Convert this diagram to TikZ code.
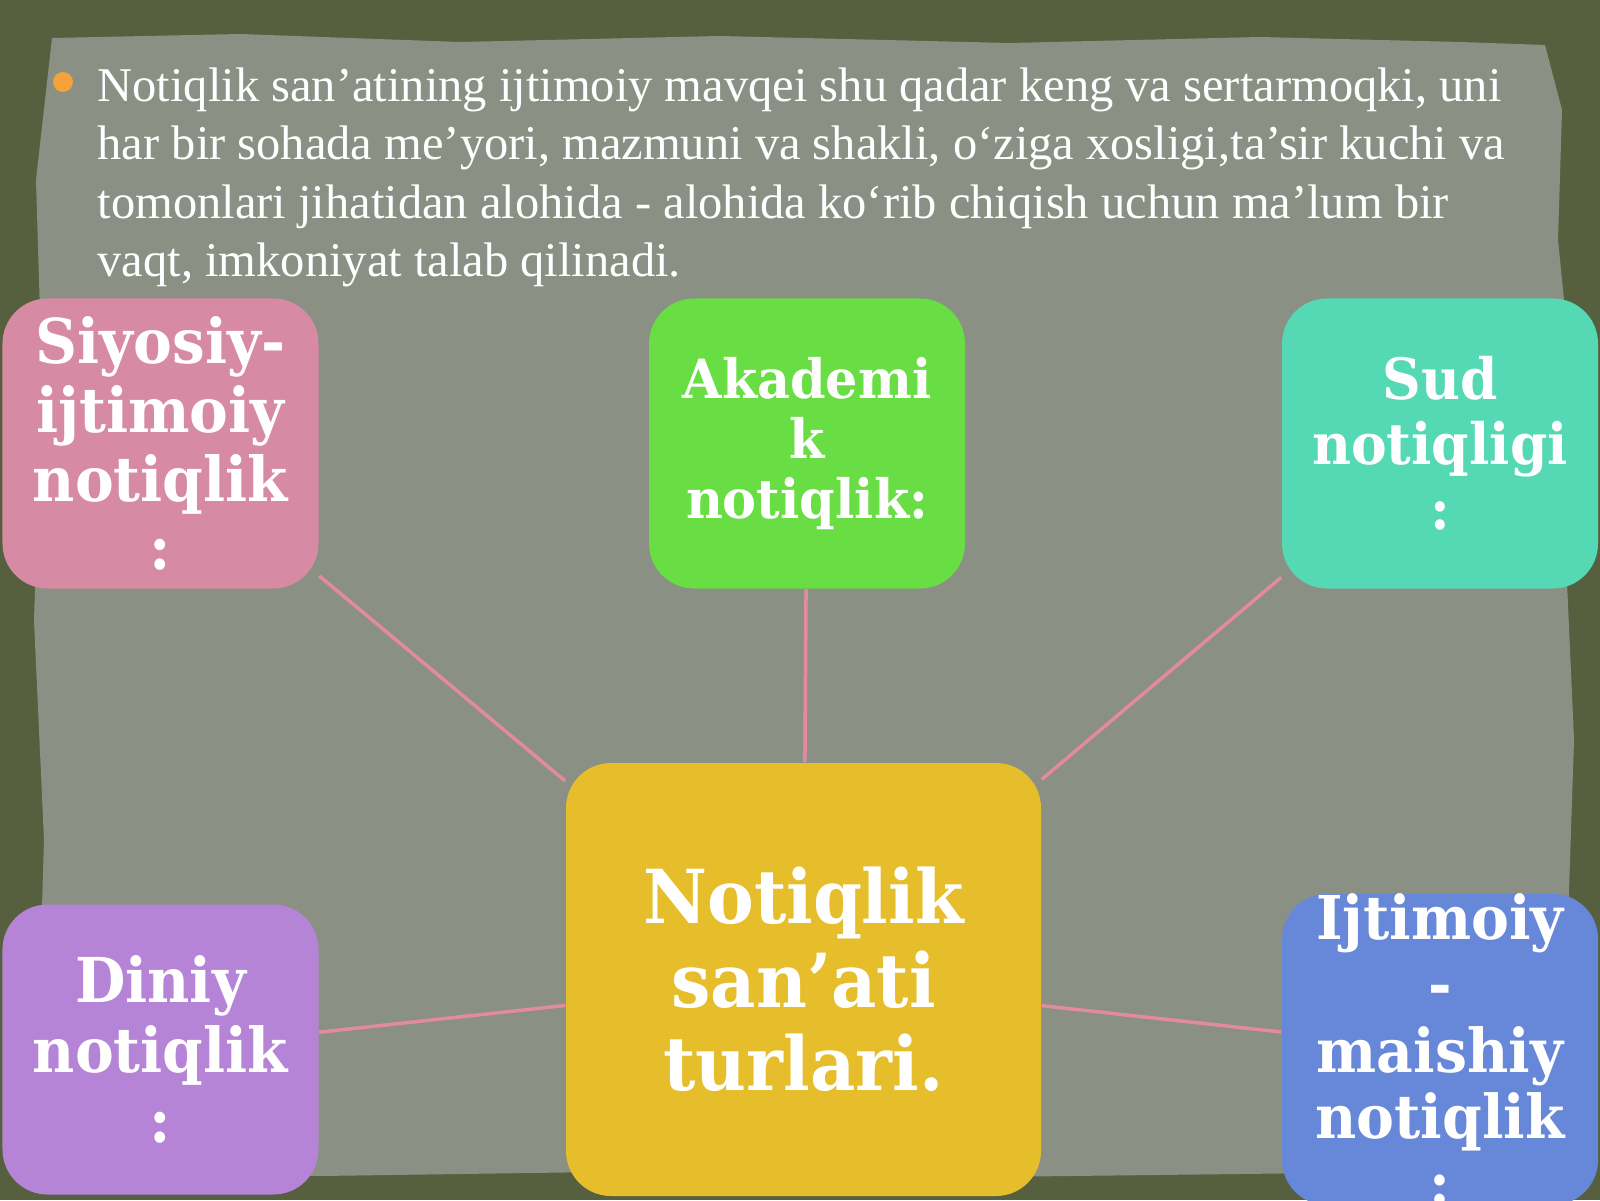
\documentclass[tikz,border=0pt]{standalone}
\usepackage{fontspec}
\usepackage{xcolor}
\setmainfont{Liberation Serif}
\newfontfamily\slidefont{Liberation Serif}
\newfontfamily\boxfont[FakeStretch=0.94]{DejaVu Serif}
\definecolor{framegreen}{HTML}{56603F}
\definecolor{paper}{HTML}{8A9083}
\definecolor{linkpink}{HTML}{E38AA2}
\definecolor{bulletorange}{HTML}{F4A23C}
\definecolor{siyosiyc}{HTML}{D78AA4}
\definecolor{akademc}{HTML}{68DE44}
\definecolor{sudc}{HTML}{55D8B4}
\definecolor{dinc}{HTML}{B684D6}
\definecolor{maishc}{HTML}{6788D8}
\definecolor{markazc}{HTML}{E6BE2C}

\begin{document}
\begin{tikzpicture}[
  turbox/.style={rounded corners=0.45cm,text=white,align=center,inner sep=0pt,
    minimum width=3.16cm,minimum height=2.9cm},
  link/.style={draw=linkpink,line width=1pt}]
\useasboundingbox (0,0) rectangle (16,12);
% background frame and torn paper
\fill[framegreen] (0,0) rectangle (16,12);
\fill[paper] (0.52,11.62) -- (2.4,11.66) -- (4.6,11.58) -- (7.2,11.64) -- (10.1,11.57)
  -- (12.6,11.63) -- (14.6,11.58) -- (15.45,11.55) -- (15.62,10.9) -- (15.58,9.6)
  -- (15.72,8.2) -- (15.66,6.4) -- (15.74,4.6) -- (15.68,2.8) -- (15.72,1.0)
  -- (15.6,0.3) -- (12.4,0.26) -- (9.0,0.22) -- (6.0,0.28) -- (3.2,0.24) -- (0.5,0.3)
  -- (0.38,1.6) -- (0.44,3.6) -- (0.34,5.8) -- (0.42,8.2) -- (0.36,10.2) -- cycle;

% bullet text
\fill[bulletorange] (0.63,11.18) circle (0.1);
\node[anchor=north west,inner sep=0pt,align=left,text=white,
  font=\slidefont\fontsize{13.8}{16.6}\selectfont] (intro) at (0.97,11.33)
  {Notiqlik san’atining ijtimoiy mavqei shu qadar keng va sertarmoqki, uni\\
   har bir sohada me’yori, mazmuni va shakli, o‘ziga xosligi,ta’sir kuchi va\\
   tomonlari jihatidan alohida - alohida ko‘rib chiqish uchun ma’lum bir\\
   vaqt, imkoniyat talab qilinadi.};

% boxes
\node[turbox,fill=markazc,minimum width=4.75cm,minimum height=4.33cm,
  font=\boxfont\bfseries\fontsize{21.2}{23.8}\selectfont] (markaz) at (8.035,2.205)
  {Notiqlik\\san’ati\\turlari.};
\node[turbox,fill=siyosiyc,font=\boxfont\bfseries\fontsize{17.6}{19.6}\selectfont]
  (siyosiy) at (1.605,7.565) {Siyosiy-\\ijtimoiy\\notiqlik\\:};
\node[turbox,fill=akademc,font=\boxfont\bfseries\fontsize{15.4}{17.1}\selectfont]
  (akadem) at (8.07,7.565) {Akademi\\k\\notiqlik:};
\node[turbox,fill=sudc,font=\boxfont\bfseries\fontsize{16.2}{18.5}\selectfont]
  (sud) at (14.40,7.565) {Sud\\notiqligi\\:};
\node[turbox,fill=dinc,font=\boxfont\bfseries\fontsize{17.6}{19.8}\selectfont]
  (diniy) at (1.605,1.505) {Diniy\\notiqlik\\:};
\node[turbox,fill=maishc,font=\boxfont\bfseries\fontsize{17.2}{18.8}\selectfont]
  (maishiy) at (14.40,1.505) {Ijtimoiy\\-\\maishiy\\notiqlik\\:};

% connectors
\draw[link] (siyosiy) -- (markaz);
\draw[link] (akadem) -- (markaz);
\draw[link] (sud) -- (markaz);
\draw[link] (diniy) -- (markaz);
\draw[link] (maishiy) -- (markaz);
\end{tikzpicture}
\end{document}
